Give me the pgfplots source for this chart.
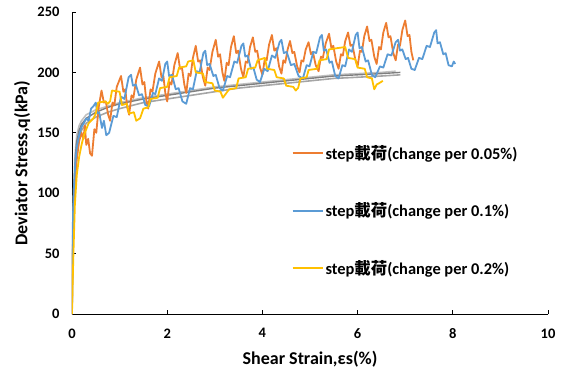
\documentclass[border=0pt]{standalone}
\usepackage{fontspec}
\setmainfont{Carlito}
\newfontfamily\cjk{Noto Sans CJK TC}
\usepackage{pgfplots}
\pgfplotsset{compat=1.18}
\definecolor{xorange}{HTML}{ED7D31}
\definecolor{xblue}{HTML}{5B9BD5}
\definecolor{xyellow}{HTML}{FFC000}
\definecolor{xgray}{HTML}{A5A5A5}
\definecolor{xdgray}{HTML}{7F7F7F}
\begin{document}
\begin{tikzpicture}
\begin{axis}[
  scale only axis, width=476bp, height=302bp,
  xmin=0, xmax=10, ymin=0, ymax=250,
  xtick={0,2,...,10}, ytick={0,50,...,250},
  axis lines=left, axis line style={-, line width=1pt},
  tick align=inside, major tick length=4bp, tick style={line width=1pt, black},
  /pgf/number format/assume math mode=true,
  ticklabel style={font=\fontsize{14.5bp}{16bp}\selectfont\bfseries},
  xticklabel style={yshift=-11bp},
  yticklabel style={xshift=-9bp},
  xlabel={Shear Strain,εs(\%)},
  ylabel={Deviator Stress,q(kPa)},
  label style={font=\fontsize{18bp}{20bp}\selectfont\bfseries},
  xlabel style={at={(axis description cs:0.5,-0.149)}, anchor=center},
  ylabel style={at={(axis description cs:-0.105,0.5)}, anchor=center},
  legend style={draw=none, fill=none, at={(0.455,0.572)}, anchor=north west,
    row sep=38bp, font=\fontsize{16.4bp}{18bp}\selectfont\bfseries},
  legend cell align=left,
  legend image code/.code={\draw[#1] (0bp,0bp) -- (30bp,0bp);},
  every axis plot/.append style={line width=1.8pt, line join=round},
]
\addplot[xgray, line width=1.6pt, forget plot] coordinates {(0,0)(0.02,60)(0.05,100)(0.1,130)(0.15,145)(0.2,152)(0.3,158)(0.5,163)(0.75,167)(1,170)(1.5,175)(2,178)(2.5,181)(3,184)(3.5,187)(4,189)(4.5,191)(5,193)(5.5,195)(6,196)(6.5,197)(6.9,198)};
\addplot[xgray!70, line width=1.6pt, forget plot] coordinates {(0,0)(0.01,50)(0.03,95)(0.06,130)(0.1,148)(0.15,156)(0.2,160)(0.3,165)(0.5,169)(0.75,172)(1,175)(1.5,179)(2,182)(2.5,185)(3,188)(3.5,190)(4,192)(4.5,194)(5,196)(5.5,198)(6,199)(6.5,200)(6.8,201)};
\addplot[xdgray, line width=1.4pt, forget plot] coordinates {(0,0)(0.01,40)(0.02,70)(0.04,100)(0.06,120)(0.08,135)(0.1,143)(0.15,152)(0.2,157)(0.3,162)(0.5,167)(0.75,171)(1,174)(1.5,178)(2,181)(2.5,184)(3,187)(3.5,189)(4,191)(4.5,193)(5,195)(5.5,197)(6,198)(6.5,199)(6.9,200)};
\addplot[xorange] coordinates {
(0,0)(0.01,40)(0.03,80)(0.06,110)(0.1,128)(0.15,143)(0.2,150)(0.24,145)(0.27,156)(0.3,140)(0.34,145)(0.38,133)(0.42,131)
(0.47,153)(0.51,150)(0.56,171)(0.62,185)
(0.67,175)(0.71,176)(0.76,165)(0.8,160)
(0.85,175)(0.89,173)(0.94,188)(1.03,197)
(1.08,184)(1.12,186)(1.16,171)(1.2,165)
(1.25,181)(1.29,179)(1.35,194)(1.43,204)
(1.48,190)(1.52,192)(1.56,177)(1.6,170)
(1.65,186)(1.69,184)(1.75,199)(1.83,209)
(1.88,196)(1.92,197)(1.96,183)(2.0,176)
(2.05,192)(2.09,190)(2.15,206)(2.22,216)
(2.27,203)(2.31,204)(2.36,190)(2.4,183)
(2.45,199)(2.49,197)(2.54,212)(2.6,222)
(2.65,209)(2.69,210)(2.75,196)(2.8,189)
(2.85,204)(2.89,202)(2.95,217)(3.02,227)
(3.07,213)(3.11,215)(3.16,200)(3.2,193)
(3.25,208)(3.29,206)(3.34,221)(3.4,230)
(3.45,216)(3.49,218)(3.55,203)(3.6,196)
(3.65,209)(3.69,208)(3.74,221)(3.8,229)
(3.85,217)(3.89,218)(3.95,204)(4.0,198)
(4.05,211)(4.09,210)(4.14,223)(4.2,231)
(4.25,218)(4.29,220)(4.35,205)(4.4,199)
(4.44,210)(4.48,208)(4.53,219)(4.58,226)
(4.63,216)(4.67,217)(4.73,205)(4.78,200)
(4.82,210)(4.86,209)(4.91,219)(4.97,225)
(5.02,215)(5.06,217)(5.12,206)(5.18,201)
(5.23,213)(5.27,212)(5.33,224)(5.4,232)
(5.45,220)(5.49,222)(5.55,209)(5.6,203)
(5.65,215)(5.69,214)(5.74,226)(5.8,233)
(5.85,222)(5.89,223)(5.95,211)(6.0,205)
(6.05,218)(6.09,217)(6.14,230)(6.2,238)
(6.25,226)(6.29,227)(6.35,213)(6.4,207)
(6.45,221)(6.49,219)(6.54,233)(6.6,241)
(6.65,229)(6.69,230)(6.75,216)(6.8,210)
(6.85,223)(6.89,222)(6.94,235)(7.0,243)
(7.05,230)(7.09,231)(7.13,217)(7.17,210)
};
\addlegendentry{step{\cjk\bfseries 載荷}(change per 0.05\%)}
\addplot[xblue] coordinates {
(0,0)(0.01,45)(0.02,80)(0.04,105)(0.07,125)(0.1,138)(0.15,148)(0.2,155)(0.25,158)(0.3,162)(0.35,160)(0.4,170)(0.45,172)(0.5,175)
(0.53,166)(0.57,167)(0.63,154)(0.67,160)(0.72,148)(0.78,150)
(0.87,164)(0.94,163)(1.03,180)(1.10,178)(1.19,196)(1.24,198)
(1.28,189)(1.34,190)(1.41,181)(1.47,182)(1.54,173)(1.62,172)
(1.70,183)(1.75,182)(1.83,195)(1.89,193)(1.96,207)(2.0,209)
(2.04,197)(2.1,198)(2.18,186)(2.24,187)(2.32,176)(2.4,174)
(2.48,187)(2.54,186)(2.62,201)(2.68,200)(2.76,216)(2.8,218)
(2.84,206)(2.89,207)(2.97,197)(3.02,198)(3.10,187)(3.17,185)
(3.26,197)(3.32,196)(3.41,209)(3.47,208)(3.56,222)(3.6,224)
(3.64,213)(3.69,214)(3.76,203)(3.81,204)(3.88,194)(3.95,192)
(4.04,203)(4.11,201)(4.2,214)(4.27,212)(4.36,225)(4.4,227)
(4.45,216)(4.51,217)(4.6,206)(4.67,207)(4.76,197)(4.85,195)
(4.93,206)(4.99,205)(5.07,217)(5.13,216)(5.21,229)(5.25,231)
(5.29,218)(5.34,219)(5.41,208)(5.46,209)(5.53,197)(5.6,195)
(5.68,206)(5.74,205)(5.82,219)(5.88,217)(5.96,231)(6.0,233)
(6.04,220)(6.09,221)(6.17,209)(6.22,210)(6.30,198)(6.37,196)
(6.47,205)(6.54,204)(6.63,215)(6.71,214)(6.80,225)(6.85,227)
(6.89,218)(6.94,219)(7.01,211)(7.06,212)(7.13,203)(7.2,202)
(7.29,212)(7.36,211)(7.45,222)(7.52,221)(7.61,233)(7.65,235)
(7.68,224)(7.73,225)(7.8,215)(7.85,216)(7.91,206)(7.98,205)
(8.02,209)(8.05,207)
};
\addlegendentry{step{\cjk\bfseries 載荷}(change per 0.1\%)}
\addplot[xyellow] coordinates {
(0,0)(0.01,20)(0.03,50)(0.06,90)(0.1,115)(0.15,130)(0.2,140)(0.25,148)(0.3,153)(0.35,158)(0.4,160)(0.45,162)(0.5,166)
(0.55,175)(0.7,176)(0.75,174)(0.8,176)(0.84,185)(1.0,184)
(1.05,173)(1.15,174)(1.2,166)(1.3,167)(1.35,160)(1.43,162)
(1.5,170)(1.6,171)(1.65,178)(1.8,179)(1.85,187)(2.0,188)(2.05,196)(2.2,197)(2.25,204)(2.4,205)(2.44,209)(2.55,210)
(2.6,200)(2.75,199)(2.8,192)(2.95,191)(3.0,185)(3.12,184)(3.17,179)
(3.3,186)(3.45,187)(3.5,195)(3.65,196)(3.7,203)(3.85,204)(3.9,210)(4.05,212)
(4.1,203)(4.25,202)(4.3,196)(4.45,195)(4.5,189)(4.65,188)(4.7,185)(4.75,187)
(4.8,195)(4.93,196)(4.97,202)(5.15,203)(5.2,210)(5.35,211)(5.4,219)(5.56,220)(5.74,221)
(5.8,212)(5.95,211)(6.0,204)(6.15,203)(6.2,196)(6.3,195)(6.35,186)(6.4,190)(6.45,191)(6.53,193)
};
\addlegendentry{step{\cjk\bfseries 載荷}(change per 0.2\%)}
\end{axis}
\pgfresetboundingbox
\path (-72bp,-58bp) rectangle (494bp,314bp);
\end{tikzpicture}
\end{document}
